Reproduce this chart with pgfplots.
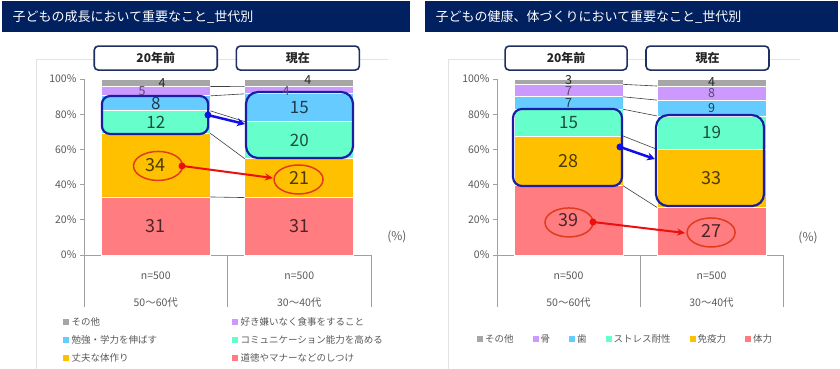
\documentclass[border=0pt]{standalone}
\usepackage{fontspec}
\setmainfont{Noto Sans CJK JP}
\usepackage{pgfplots}
\usepackage{pgfplotstable}
\pgfplotsset{compat=1.18}
\usetikzlibrary{arrows.meta}

\definecolor{cRed}{HTML}{FF7C80}
\definecolor{cOrange}{HTML}{FFC000}
\definecolor{cGreen}{HTML}{66FFCC}
\definecolor{cBlue}{HTML}{66CCFF}
\definecolor{cPurple}{HTML}{CC99FF}
\definecolor{cGray}{HTML}{A6A6A6}
\definecolor{navy}{HTML}{002060}
\definecolor{hdr}{HTML}{1F2F60}
\definecolor{axgray}{HTML}{A0A0A0}
\definecolor{framegray}{HTML}{E3E3E3}
\definecolor{tickgray}{HTML}{595959}
\definecolor{lineg}{HTML}{404040}
\definecolor{annBlue}{RGB}{25,30,165}
\definecolor{arrBlue}{RGB}{15,15,230}
\definecolor{annRed}{RGB}{225,60,30}
\definecolor{arrRed}{RGB}{235,15,15}
\colorlet{labRed}{cRed!30!black}
\colorlet{labOrange}{cOrange!30!black}
\colorlet{labGreen}{cGreen!30!black}
\colorlet{labBlue}{cBlue!30!black}
\colorlet{labPurple}{cPurple!45!black}
\colorlet{labGray}{black!85}

\newcommand{\fs}[2]{\fontsize{#1bp}{#2bp}\selectfont}

% shares of each answer in percent (stacked to 100)
\pgfplotstableread{
x red orange green blue purple gray
0 32.98 36.17 12.77 8.51 5.32 4.26
1 32.63 22.11 21.05 15.79 4.21 4.21
}\tabA
\pgfplotstableread{
x red orange green blue purple gray
0 39.39 28.28 15.15 7.07 7.07 3.03
1 27 33 19 9 8 4
}\tabB

\pgfplotsset{
  geom/.style={scale only axis, width=#1, height=176bp, xmin=-0.5, xmax=1.5,
    ymin=0, ymax=100, anchor=south west},
  barax/.style={
    ybar stacked, bar width=109bp,
    axis x line*=bottom, axis y line*=left,
    axis line style={draw=axgray, line width=0.8bp},
    ytick={0,20,40,60,80,100},
    yticklabels={0\%,20\%,40\%,60\%,80\%,100\%},
    yticklabel style={font=\fs{10.5}{12}, text=tickgray},
    ytick style={draw=axgray, line width=0.8bp},
    tick align=outside, major tick length=4bp,
    xtick={0,1},
    xtick style={draw=none},
    xticklabel style={text width=120bp, align=center, font=\fs{10.5}{13}, text=tickgray, yshift=-9bp},
  },
  sq/.style={legend image code/.code={\fill[##1, draw=none] (0bp,-3bp) rectangle (6bp,3bp);}},
  seg/.style={fill=#1, draw=white, line width=0.8bp, sq},
  overax/.style={axis lines=none, ticks=none, clip=false},
}

\newcommand{\labs}[3]{\addplot[draw=none, mark=none, nodes near coords,
  point meta=explicit symbolic,
  every node near coord/.append style={anchor=center, inner sep=0pt, text=#1, font=#2}]
  coordinates {#3};}

\begin{document}
\begin{tikzpicture}
% ---------- title bars and frames ----------
\fill[navy] (2bp,-1bp) rectangle (410bp,-32bp);
\node[anchor=west, text=white, font=\fs{13}{13}] at (9bp,-16.5bp) {子どもの成長において重要なこと\_世代別};
\fill[navy] (425bp,-1bp) rectangle (838bp,-32bp);
\node[anchor=west, text=white, font=\fs{13}{13}] at (432bp,-16.5bp) {子どもの健康、体づくりにおいて重要なこと\_世代別};
\draw[framegray, line width=0.8bp] (36bp,-369bp) -- (36bp,-59bp) -- (388bp,-59bp);
\draw[framegray, line width=0.8bp] (448bp,-369bp) -- (448bp,-59bp) -- (800bp,-59bp);

% ================= LEFT CHART =================
\begin{axis}[geom=287bp, at={(84bp,-255bp)}, barax,
  xticklabels={{n=500\\[14bp]50〜60代},{n=500\\[14bp]30〜40代}},
  legend columns=2, reverse legend,
  legend style={at={(axis description cs:-0.075,-0.335)}, anchor=north west,
    draw=none, fill=none, inner sep=0pt, font=\fs{9.5}{11}, text=tickgray,
    row sep=2.5bp, nodes={text width=157bp, align=left, inner xsep=3bp, inner ysep=3bp}},
]
\addplot[seg=cRed] table[x=x, y=red] {\tabA};
\addlegendentry{道徳やマナーなどのしつけ}
\addplot[seg=cOrange] table[x=x, y=orange] {\tabA};
\addlegendentry{丈夫な体作り}
\addplot[seg=cGreen] table[x=x, y=green] {\tabA};
\addlegendentry{コミュニケーション能力を高める}
\addplot[seg=cBlue] table[x=x, y=blue] {\tabA};
\addlegendentry{勉強・学力を伸ばす}
\addplot[seg=cPurple] table[x=x, y=purple] {\tabA};
\addlegendentry{好き嫌いなく食事をすること}
\addplot[seg=cGray] table[x=x, y=gray] {\tabA};
\addlegendentry{その他}
\end{axis}

\begin{axis}[geom=287bp, at={(84bp,-255bp)}, overax]
% series lines
\addplot[lineg, line width=0.6bp] coordinates {(0.38,32.98) (0.62,32.63)};
\addplot[lineg, line width=0.6bp] coordinates {(0.38,69.15) (0.62,54.74)};
\addplot[lineg, line width=0.6bp] coordinates {(0.38,81.91) (0.62,75.79)};
\addplot[lineg, line width=0.6bp] coordinates {(0.38,90.43) (0.62,91.58)};
\addplot[lineg, line width=0.6bp] coordinates {(0.38,95.74) (0.62,95.79)};
% value labels
\labs{labRed}{\fs{18}{18}}{(0,16.49) [31] (1,16.32) [31]}
\labs{labOrange}{\fs{18}{18}}{(0,51.06) [34] (1,43.68) [21]}
\labs{labGreen}{\fs{17}{17}}{(0,75.53) [12] (1,65.26) [20]}
\labs{labBlue}{\fs{17}{17}}{(0,86.17) [8] (1,83.68) [15]}
\labs{labPurple}{\fs{12.5}{12.5}}{(-0.096,93.2) [5] (0.908,93.2) [4]}
\labs{labGray}{\fs{12.5}{12.5}}{(0.044,97.7) [4] (1.06,99.3) [4]}
% table lines
\draw[axgray, line width=0.8bp] (rel axis cs:0,0) -- (rel axis cs:0,-0.2955);
\draw[axgray, line width=0.8bp] (rel axis cs:0.5,0) -- (rel axis cs:0.5,-0.2955);
\draw[axgray, line width=0.8bp] (rel axis cs:1,0) -- (rel axis cs:1,-0.2955);
% annotations
\draw[annBlue, line width=2.2bp, rounded corners=8bp] (axis cs:-0.375,68.8) rectangle (axis cs:0.365,90.3);
\draw[annBlue, line width=2.2bp, rounded corners=12bp] (axis cs:0.629,55.1) rectangle (axis cs:1.375,92.6);
\draw[arrBlue, line width=2.5bp, -{Stealth[length=8bp,width=8bp]}] (axis cs:0.364,79.5) -- (axis cs:0.622,74.4);
\fill[arrBlue] (axis cs:0.364,79.5) circle (3.5bp);
\draw[annRed, line width=1.5bp] (axis cs:0.016,50.6) ellipse [x radius=24.5bp, y radius=14.5bp];
\draw[annRed, line width=1.5bp] (axis cs:0.995,42.9) ellipse [x radius=24.5bp, y radius=14.5bp];
\draw[arrRed, line width=2bp, -{Stealth[length=8bp,width=7bp]}] (axis cs:0.183,50.6) -- (axis cs:0.817,43.75);
\fill[arrRed] (axis cs:0.183,50.6) circle (3.5bp);
% headers
\node[draw=hdr, line width=1.6bp, rounded corners=4bp, fill=white, minimum width=123bp,
  minimum height=24bp, font=\bfseries\fs{12}{12}, text=black!85] at (axis cs:0,111.9) {20年前};
\node[draw=hdr, line width=1.6bp, rounded corners=4bp, fill=white, minimum width=123bp,
  minimum height=24bp, font=\bfseries\fs{12}{12}, text=black!85] at (axis cs:0.99,111.9) {現在};
\node[font=\fs{12}{12}, text=tickgray] at (axis cs:1.68,10.2) {(\%)};
\end{axis}

% ================= RIGHT CHART =================
\begin{axis}[geom=286bp, at={(497bp,-255bp)}, barax,
  xticklabels={{n=500\\[14bp]50〜60代},{n=500\\[14bp]30〜40代}},
  legend columns=6, reverse legend,
  legend style={at={(axis description cs:-0.07,-0.44)}, anchor=north west,
    draw=none, fill=none, inner sep=0pt, font=\fs{9.5}{11}, text=tickgray,
    /tikz/every even column/.append style={column sep=17bp}},
]
\addplot[seg=cRed] table[x=x, y=red] {\tabB};
\addlegendentry{体力}
\addplot[seg=cOrange] table[x=x, y=orange] {\tabB};
\addlegendentry{免疫力}
\addplot[seg=cGreen] table[x=x, y=green] {\tabB};
\addlegendentry{ストレス耐性}
\addplot[seg=cBlue] table[x=x, y=blue] {\tabB};
\addlegendentry{歯}
\addplot[seg=cPurple] table[x=x, y=purple] {\tabB};
\addlegendentry{骨}
\addplot[seg=cGray] table[x=x, y=gray] {\tabB};
\addlegendentry{その他}
\end{axis}

\begin{axis}[geom=286bp, at={(497bp,-255bp)}, overax]
\addplot[lineg, line width=0.6bp] coordinates {(0.38,39.39) (0.62,27)};
\addplot[lineg, line width=0.6bp] coordinates {(0.38,67.68) (0.62,60)};
\addplot[lineg, line width=0.6bp] coordinates {(0.38,82.83) (0.62,79)};
\addplot[lineg, line width=0.6bp] coordinates {(0.38,89.90) (0.62,88)};
\addplot[lineg, line width=0.6bp] coordinates {(0.38,96.97) (0.62,96)};
\labs{labRed}{\fs{18}{18}}{(0,19.70) [39] (1,13.5) [27]}
\labs{labOrange}{\fs{18}{18}}{(0,53.54) [28] (1,43.5) [33]}
\labs{labGreen}{\fs{17}{17}}{(0,75.25) [15] (1,69.5) [19]}
\labs{labBlue}{\fs{12.5}{12.5}}{(0,86.36) [7] (1,83.5) [9]}
\labs{labPurple}{\fs{12.5}{12.5}}{(0,92.9) [7] (1,92) [8]}
\labs{labGray}{\fs{12.5}{12.5}}{(0,99.4) [3] (1,98.3) [4]}
\draw[axgray, line width=0.8bp] (rel axis cs:0,0) -- (rel axis cs:0,-0.2955);
\draw[axgray, line width=0.8bp] (rel axis cs:0.5,0) -- (rel axis cs:0.5,-0.2955);
\draw[axgray, line width=0.8bp] (rel axis cs:1,0) -- (rel axis cs:1,-0.2955);
\draw[annBlue, line width=2.2bp, rounded corners=9bp] (axis cs:-0.388,39.2) rectangle (axis cs:0.374,83.0);
\draw[annBlue, line width=2.2bp, rounded corners=12bp] (axis cs:0.612,27.8) rectangle (axis cs:1.367,79.5);
\draw[arrBlue, line width=2.5bp, -{Stealth[length=8bp,width=8bp]}] (axis cs:0.36,61.4) -- (axis cs:0.605,54.5);
\fill[arrBlue] (axis cs:0.36,61.4) circle (3.5bp);
\draw[annRed, line width=1.5bp] (axis cs:0.0035,18.5) ellipse [x radius=24bp, y radius=14.5bp];
\draw[annRed, line width=1.5bp] (axis cs:0.997,12.8) ellipse [x radius=24bp, y radius=14.5bp];
\draw[arrRed, line width=2bp, -{Stealth[length=8bp,width=7bp]}] (axis cs:0.171,18.75) -- (axis cs:0.815,12.5);
\fill[arrRed] (axis cs:0.171,18.75) circle (3.5bp);
\node[draw=hdr, line width=1.6bp, rounded corners=4bp, fill=white, minimum width=122bp,
  minimum height=24bp, font=\bfseries\fs{12}{12}, text=black!85] at (axis cs:-0.017,111.9) {20年前};
\node[draw=hdr, line width=1.6bp, rounded corners=4bp, fill=white, minimum width=123bp,
  minimum height=24bp, font=\bfseries\fs{12}{12}, text=black!85] at (axis cs:0.972,111.9) {現在};
\node[font=\fs{12}{12}, text=tickgray] at (axis cs:1.675,10) {(\%)};
\end{axis}

\pgfresetboundingbox
\path[use as bounding box] (0,0) rectangle (840bp,-369bp);
\end{tikzpicture}
\end{document}
